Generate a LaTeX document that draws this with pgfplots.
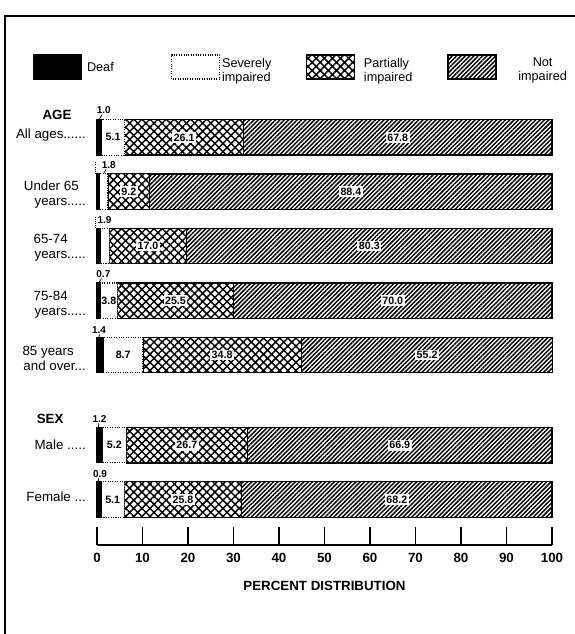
\documentclass[border=0pt]{standalone}
\usepackage{fontspec}
\setmainfont{Liberation Sans}
\usepackage{pgfplots}
\pgfplotsset{compat=1.18}
\usetikzlibrary{patterns.meta}

\tikzset{
  deaf/.style={fill=black, draw=black, line width=0.8pt},
  severe/.style={fill=white, draw=black, densely dotted, line width=0.8pt},
  partial/.style={draw=black, line width=0.9pt, pattern={Hatch[angle=45,distance=4.3pt,line width=1.1pt]}},
  notimp/.style={draw=black, line width=1pt, pattern={Lines[angle=45,distance=2.3pt,line width=1.1pt]}},
  lab/.style={fill=white, inner sep=1.2pt, font=\bfseries\fontsize{8}{9}\selectfont},
  small/.style={inner sep=0pt, font=\bfseries\fontsize{7.5}{8}\selectfont},
  lead/.style={line width=0.6pt},
  cat/.style={anchor=east, align=right, inner sep=0pt, font=\fontsize{10}{11.5}\selectfont},
}
\pgfplotsset{legsq/.style={legend image code/.code={\draw[##1] (0pt,-9pt) rectangle (36pt,9pt);}}}

\begin{document}
\begin{tikzpicture}
\begin{axis}[
    x=3.4125pt, y=40.725pt,
    xbar stacked, bar width=26.6pt,
    xmin=0, xmax=100, ymin=0.16, ymax=8.3,
    axis x line*=bottom, axis y line=none,
    axis line style={line width=1.1pt},
    xtick={0,10,...,100}, ytick=\empty,
    tick align=inside, major tick length=13.5pt,
    xtick style={line width=1.1pt, black},
    /pgf/number format/assume math mode=true,
    xticklabel style={font=\bfseries\fontsize{10}{11}\selectfont, inner sep=0pt, yshift=-6pt},
    xlabel={PERCENT DISTRIBUTION},
    xlabel style={at={(axis description cs:0.5,-0.0925)}, anchor=center, font=\bfseries\fontsize{10}{11}\selectfont},
    clip=false,
    legend columns=4,
    legend style={at={(axis description cs:-0.1407,1.0817)}, anchor=west, draw=none, fill=none,
      inner sep=0pt, outer sep=0pt, column sep=0pt, row sep=0pt,
      nodes={inner sep=0pt, outer sep=0pt}, font=\fontsize{9.5}{10.5}\selectfont},
  ]
\addplot[deaf, legsq] coordinates {(1.0,7.67) (0.6,6.67) (0.8,5.67) (0.7,4.66) (1.4,3.66) (1.2,2) (0.9,1)};
\addplot[severe, legsq] coordinates {(5.1,7.67) (1.8,6.67) (1.9,5.67) (3.8,4.66) (8.7,3.66) (5.2,2) (5.1,1)};
\addplot[partial, legsq] coordinates {(26.1,7.67) (9.2,6.67) (17.0,5.67) (25.5,4.66) (34.8,3.66) (26.7,2) (25.8,1)};
\addplot[notimp, legsq] coordinates {(67.8,7.67) (88.4,6.67) (80.3,5.67) (70.0,4.66) (55.2,3.66) (66.9,2) (68.2,1)};
\legend{
  \parbox{66.75pt}{\raggedright\leftskip=3.75pt Deaf},
  \parbox{64.5pt}{\raggedright\leftskip=1.5pt Severely\\impaired},
  \parbox{69pt}{\raggedright\leftskip=6.5pt Partially\\impaired},
  \parbox{69pt}{\centering Not\\impaired}}

% category labels
\node[font=\bfseries\fontsize{10}{11}\selectfont, inner sep=0pt] at (axis cs:-8.79,8.08) {AGE};
\node[cat] at (axis cs:-2.42,7.72) {All ages......};
\node[cat] at (axis cs:-2.42,6.62) {Under 65\kern5.25pt\\years.....};
\node[cat] at (axis cs:-2.42,5.64) {65-74\kern13.5pt\\years.....};
\node[cat] at (axis cs:-2.42,4.59) {75-84\kern13.5pt\\years.....};
\node[cat] at (axis cs:-2.42,3.60) {85 years\kern9pt\\and over...};
\node[font=\bfseries\fontsize{10}{11}\selectfont, inner sep=0pt] at (axis cs:-10.3,2.48) {SEX};
\node[cat] at (axis cs:-2.42,2.0) {Male .....};
\node[cat] at (axis cs:-2.42,1.05) {Female ...};

% frame
\draw[line width=1pt] (axis cs:-20.22,-1.477) -- (axis cs:-20.22,9.904) -- (axis cs:105.05,9.904);
\coordinate (o) at (axis cs:0,0);
\coordinate (bbsw) at (axis cs:-21.32,-1.477);
\coordinate (bbne) at (axis cs:105.05,10.199);
\end{axis}

% value labels, on top of the bars (same units as the axis)
\begin{scope}[shift={(o)}, x=3.4125pt, y=40.725pt]
\node[lab] at (3.55,7.67) {5.1};
\node[lab] at (19.15,7.67) {26.1};
\node[lab] at (66.1,7.67) {67.8};
\node[lab] at (7.0,6.67) {9.2};
\node[lab] at (55.8,6.67) {88.4};
\node[lab] at (11.2,5.67) {17.0};
\node[lab] at (59.85,5.67) {80.3};
\node[lab, inner sep=0.3pt] at (2.6,4.66) {3.8};
\node[lab] at (17.25,4.66) {25.5};
\node[lab] at (65.0,4.66) {70.0};
\node[lab] at (5.75,3.66) {8.7};
\node[lab] at (27.5,3.66) {34.8};
\node[lab] at (72.55,3.66) {55.2};
\node[lab] at (3.8,2) {5.2};
\node[lab] at (19.75,2) {26.7};
\node[lab] at (66.55,2) {66.9};
\node[lab] at (3.45,1) {5.1};
\node[lab] at (18.9,1) {25.8};
\node[lab] at (65.9,1) {68.2};

\node[small] at (1.5,8.17) {1.0};
\node[small] at (2.6,7.16) {1.8};
\node[small] at (1.65,6.15) {1.9};
\node[small] at (1.4,5.15) {0.7};
\node[small] at (0.45,4.12) {1.4};
\node[small] at (0.55,2.48) {1.2};
\node[small] at (0.65,1.47) {0.9};
\draw[lead] (1.1,8.09) -- (0.5,8.0);
\draw[lead] (2.0,7.08) -- (1.4,7.0);
\draw[lead, densely dotted] (-0.25,7.0) -- (-0.25,7.22);
\draw[lead, densely dotted] (-0.3,6.0) -- (-0.3,6.2);
\draw[lead] (1.0,5.07) -- (0.4,4.99);
\draw[lead] (0.6,4.04) -- (0.4,3.99);
\draw[lead] (0.4,2.40) -- (0.3,2.33);
\draw[lead] (0.4,1.39) -- (0.2,1.33);
\end{scope}

\pgfresetboundingbox
\path[use as bounding box] (bbsw) rectangle (bbne);
\end{tikzpicture}
\end{document}
